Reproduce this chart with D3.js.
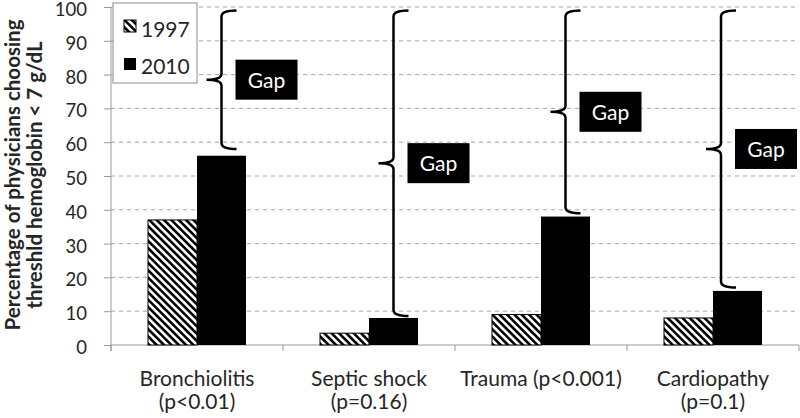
<!DOCTYPE html>
<html>
<head>
<meta charset="utf-8">
<script src="https://cdn.jsdelivr.net/npm/d3@7"></script>
<style>
  body { margin: 0; background: #fff; }
  svg { display: block; font-family: Lato, "Open Sans", sans-serif; }
</style>
</head>
<body>
<svg id="chart" width="800" height="418"></svg>
<script>
// data
const categories = ["Bronchiolitis", "Septic shock", "Trauma", "Cardiopathy"];
const categoryLabels = [["Bronchiolitis", "(p<0.01)"], ["Septic shock", "(p=0.16)"], ["Trauma (p<0.001)"], ["Cardiopathy", "(p=0.1)"]];
const years = ["1997", "2010"];
const values1997 = [37, 3.5, 9, 8];
const values2010 = [56, 8, 38, 16];
const braceTop = [99, 99, 99, 99];
const braceBottom = [58, 8.6, 39, 17];
const yTicks = [0, 10, 20, 30, 40, 50, 60, 70, 80, 90, 100];

let svg = d3.select("#chart"),
  margin = {top: 7, right: 1, bottom: 73, left: 111},
  width = +svg.attr("width") - margin.left - margin.right,
  height = +svg.attr("height") - margin.top - margin.bottom,
  g = svg.append("g").attr("transform", "translate(" + margin.left + "," + margin.top + ")");

let defs = svg.append("defs");
let pat = defs.append("pattern")
  .attr("id", "hatch")
  .attr("patternUnits", "userSpaceOnUse")
  .attr("width", 5.2)
  .attr("height", 10)
  .attr("patternTransform", "rotate(-45)");
pat.append("rect").attr("width", 5.2).attr("height", 10).attr("fill", "#fff");
pat.append("rect").attr("width", 2.6).attr("height", 10).attr("fill", "#000");

let x0 = d3.scaleBand().domain(categories).range([0, width]);
let x1 = d3.scaleBand().domain(years).range([0, x0.bandwidth()]).paddingOuter(0.755);
let y = d3.scaleLinear().domain([0, 100]).range([height, 0]);

// dashed gridlines
g.selectAll(".grid")
  .data(yTicks.filter(d => d > 0))
  .enter().append("line")
  .attr("x1", 0).attr("x2", width)
  .attr("y1", d => y(d)).attr("y2", d => y(d))
  .attr("stroke", "#a6a6a6")
  .attr("stroke-dasharray", "4,4");

// y axis
let yAxis = g.append("g")
  .call(d3.axisLeft(y).tickValues(yTicks).tickSize(7).tickPadding(17));
yAxis.select(".domain").attr("stroke", "#999").attr("d", "M0," + (height + 6) + "V0");
yAxis.selectAll(".tick line").attr("stroke", "#999");
yAxis.selectAll("text")
  .attr("font-size", 18.5)
  .attr("dy", "0.46em")
  .attr("fill", "#262626")
  .attr("font-family", "Lato");

// x axis baseline and boundary ticks
g.append("line")
  .attr("x1", 0).attr("x2", width)
  .attr("y1", height).attr("y2", height)
  .attr("stroke", "#999");
let bounds = categories.map(c => x0(c)).concat([x0(categories[3]) + x0.bandwidth()]);
g.selectAll(".xtick")
  .data(bounds)
  .enter().append("line")
  .attr("x1", d => d).attr("x2", d => d)
  .attr("y1", height).attr("y2", height + 6)
  .attr("stroke", "#999");

// category labels
let lab = g.selectAll(".xlab")
  .data(categories)
  .enter().append("g");
lab.each(function(c, i) {
  let t = d3.select(this);
  categoryLabels[i].forEach((s, k) => {
    t.append("text")
      .attr("x", x0(c) + x0.bandwidth() / 2)
      .attr("y", height + 41 + k * 23)
      .attr("text-anchor", "middle")
      .attr("font-size", 21)
      .attr("fill", "#262626")
      .text(s);
  });
});

// bars
let grp = g.selectAll(".cat")
  .data(categories)
  .enter().append("g")
  .attr("transform", d => "translate(" + x0(d) + ",0)");

grp.append("rect")
  .attr("x", x1("1997"))
  .attr("width", x1.bandwidth())
  .attr("y", (d, i) => y(values1997[i]))
  .attr("height", (d, i) => height - y(values1997[i]))
  .attr("fill", "url(#hatch)")
  .attr("stroke", "#000")
  .attr("stroke-width", 1);

grp.append("rect")
  .attr("x", x1("2010"))
  .attr("width", x1.bandwidth())
  .attr("y", (d, i) => y(values2010[i]))
  .attr("height", (d, i) => height - y(values2010[i]))
  .attr("fill", "#000");

// braces with a "Gap" box on their right
const boxW = 62, boxH = 40, boxPad = 14;
function braceX(d) {
  let cx = x0(d) + x1("2010") + x1.bandwidth() / 2;
  return Math.min(cx, width - 2 - boxW - boxPad);
}
function bracePath(x, yt, yb) {
  let ym = (yt + yb) / 2, r = 6, arm = 15, tip = 15;
  return "M" + (x + arm) + "," + yt +
    "Q" + x + "," + yt + " " + x + "," + (yt + r) +
    "V" + (ym - r) +
    "Q" + x + "," + ym + " " + (x - tip) + "," + ym +
    "Q" + x + "," + ym + " " + x + "," + (ym + r) +
    "V" + (yb - r) +
    "Q" + x + "," + yb + " " + (x + arm) + "," + yb;
}

g.selectAll(".brace")
  .data(categories)
  .enter().append("path")
  .attr("d", (d, i) => bracePath(braceX(d), y(braceTop[i]), y(braceBottom[i])))
  .attr("fill", "none")
  .attr("stroke", "#000")
  .attr("stroke-width", 2.5);

let gap = g.selectAll(".gap")
  .data(categories)
  .enter().append("g")
  .attr("transform", (d, i) => "translate(" + (braceX(d) + boxPad) + "," +
    ((y(braceTop[i]) + y(braceBottom[i])) / 2 - boxH / 2) + ")");
gap.append("rect").attr("width", boxW).attr("height", boxH).attr("fill", "#000");
gap.append("text")
  .attr("x", boxW / 2).attr("y", 28)
  .attr("text-anchor", "middle")
  .attr("font-size", 21)
  .attr("fill", "#fff")
  .text("Gap");

// legend
let leg = svg.append("g").attr("transform", "translate(113,3)");
leg.append("rect")
  .attr("width", 84).attr("height", 80)
  .attr("fill", "#fff").attr("stroke", "#8c8c8c");
leg.append("rect")
  .attr("x", 11).attr("y", 17).attr("width", 12).attr("height", 12)
  .attr("fill", "url(#hatch)").attr("stroke", "#000");
leg.append("rect")
  .attr("x", 11).attr("y", 55).attr("width", 12).attr("height", 12)
  .attr("fill", "#000");
leg.selectAll(".lt")
  .data(years)
  .enter().append("text")
  .attr("x", 28)
  .attr("y", (d, i) => 34 + i * 37)
  .attr("font-size", 21)
  .attr("fill", "#262626")
  .text(d => d);

// y axis title
let yt = svg.append("g")
  .attr("transform", "translate(0,175) rotate(-90)")
  .attr("font-weight", "bold")
  .attr("font-size", 20.5)
  .attr("fill", "#262626");
yt.append("text").attr("text-anchor", "middle").attr("x", 0).attr("y", 20).text("Percentage of physicians choosing");
yt.append("text").attr("text-anchor", "middle").attr("x", 0).attr("y", 42).text("threshld hemoglobin < 7 g/dL");
</script>
</body>
</html>
